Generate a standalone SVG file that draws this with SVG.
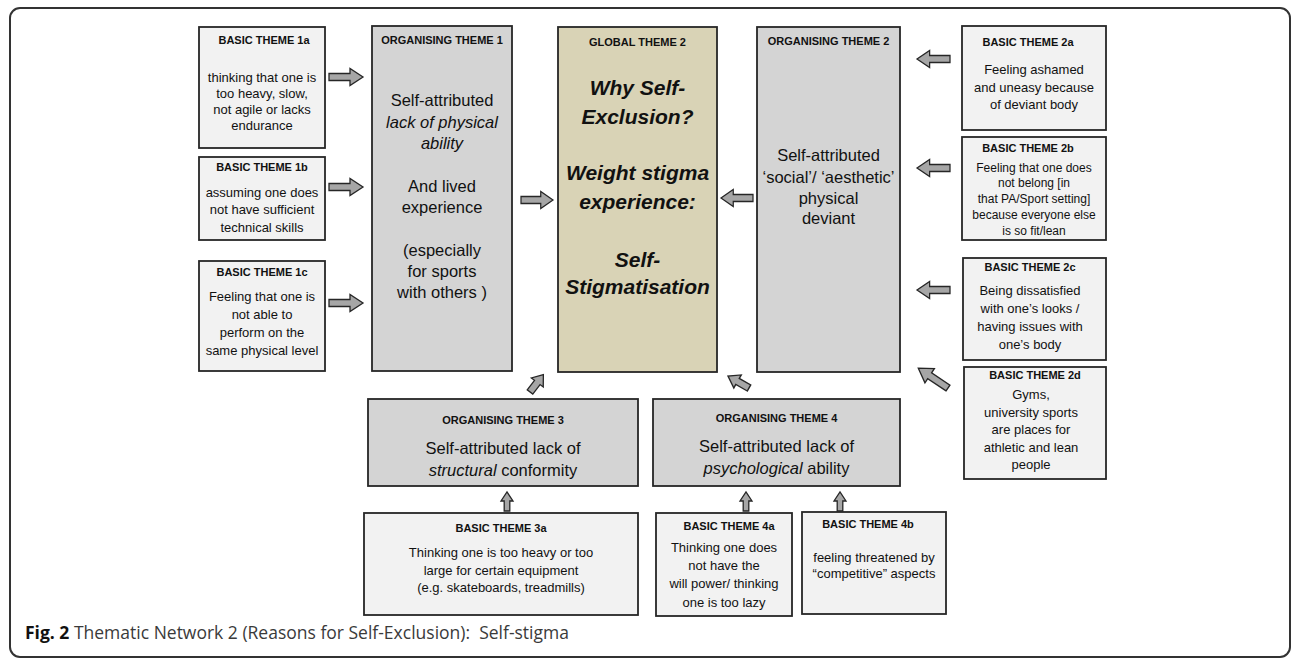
<svg xmlns="http://www.w3.org/2000/svg" width="1292" height="660" viewBox="0 0 1292 660">
<defs>
<style>
.basic{fill:#f2f2f2;stroke:#262626;stroke-width:1.8}
.org{fill:#d4d4d4;stroke:#262626;stroke-width:1.8}
.glob{fill:#d9d3b6;stroke:#262626;stroke-width:1.8}
.hd{font-family:"Liberation Sans",Arial,sans-serif;font-weight:bold;font-size:11px;fill:#111;text-anchor:middle}
.bt{font-family:"Liberation Sans",Arial,sans-serif;font-size:13px;fill:#111;text-anchor:middle}
.bt12{font-family:"Liberation Sans",Arial,sans-serif;font-size:12px;fill:#111;text-anchor:middle}
.ot{font-family:"Liberation Sans",Arial,sans-serif;font-size:16.5px;fill:#111;text-anchor:middle}
.gt{font-family:"Liberation Sans",Arial,sans-serif;font-size:21px;font-weight:bold;font-style:italic;fill:#111;text-anchor:middle}
.arr{fill:#a6a6a6;stroke:#262626;stroke-width:1.3;stroke-linejoin:miter}
.cap{font-family:"Open Sans","Liberation Sans",sans-serif;font-size:17.5px;fill:#3a3a3a}
</style>
<path id="aBig" d="M0,-3.5 H21 V-8.5 L34,0 L21,8.5 V3.5 H0 Z"/>
<path id="aMid" d="M0,-3.5 H12 V-7.5 L22,0 L12,7.5 V3.5 H0 Z"/>
<path id="aSmall" d="M0,-2.8 H10 V-6 L19,0 L10,6 V2.8 H0 Z"/>
</defs>

<rect x="10" y="8" width="1280" height="649" rx="10" fill="none" stroke="#333" stroke-width="2"/>

<g id="basic1a">
<rect class="basic" x="199" y="27" width="126" height="121"/>
<text class="hd" x="264" y="44">BASIC THEME 1a</text>
<text class="bt" x="262" y="82">thinking that one is</text>
<text class="bt" x="262" y="98">too heavy, slow,</text>
<text class="bt" x="262" y="114">not agile or lacks</text>
<text class="bt" x="262" y="130">endurance</text>
</g>
<g id="basic1b">
<rect class="basic" x="199" y="157" width="126" height="83"/>
<text class="hd" x="262" y="171">BASIC THEME 1b</text>
<text class="bt" x="262" y="196.5">assuming one does</text>
<text class="bt" x="262" y="213.5">not have sufficient</text>
<text class="bt" x="262" y="231.5">technical skills</text>
</g>
<g id="basic1c">
<rect class="basic" x="199" y="261" width="126" height="110"/>
<text class="hd" x="262" y="276">BASIC THEME 1c</text>
<text class="bt" x="262" y="300.5">Feeling that one is</text>
<text class="bt" x="262" y="318.5">not able to</text>
<text class="bt" x="262" y="336.5">perform on the</text>
<text class="bt" x="262" y="354.5">same physical level</text>
</g>
<g id="org1">
<rect class="org" x="372" y="26" width="140" height="345"/>
<text class="hd" x="442" y="44">ORGANISING THEME 1</text>
<text class="ot" x="442" y="106">Self-attributed</text>
<text class="ot" x="442" y="128" font-style="italic">lack of physical</text>
<text class="ot" x="442" y="149" font-style="italic">ability</text>
<text class="ot" x="442" y="192">And lived</text>
<text class="ot" x="442" y="213">experience</text>
<text class="ot" x="442" y="256">(especially</text>
<text class="ot" x="442" y="277">for sports</text>
<text class="ot" x="442" y="298">with others )</text>
</g>
<g id="global2">
<rect class="glob" x="558" y="27" width="159" height="345"/>
<text class="hd" x="637.5" y="46">GLOBAL THEME 2</text>
<text class="gt" x="637.5" y="95">Why Self-</text>
<text class="gt" x="637.5" y="124">Exclusion?</text>
<text class="gt" x="637.5" y="180">Weight stigma</text>
<text class="gt" x="637.5" y="209">experience:</text>
<text class="gt" x="637.5" y="267">Self-</text>
<text class="gt" x="637.5" y="294">Stigmatisation</text>
</g>
<g id="org2">
<rect class="org" x="757" y="27" width="143" height="345"/>
<text class="hd" x="828.5" y="45">ORGANISING THEME 2</text>
<text class="ot" x="828.5" y="161">Self-attributed</text>
<text class="ot" x="828.5" y="183">‘social’/ ‘aesthetic’</text>
<text class="ot" x="828.5" y="204">physical</text>
<text class="ot" x="828.5" y="224">deviant</text>
</g>
<g id="basic2a">
<rect class="basic" x="962" y="26" width="144" height="104"/>
<text class="hd" x="1028" y="46">BASIC THEME 2a</text>
<text class="bt" x="1034" y="73.5">Feeling ashamed</text>
<text class="bt" x="1034" y="91.5">and uneasy because</text>
<text class="bt" x="1034" y="108.5">of deviant body</text>
</g>
<g id="basic2b">
<rect class="basic" x="962" y="137" width="144" height="103"/>
<text class="hd" x="1028" y="152">BASIC THEME 2b</text>
<text class="bt12" x="1034" y="172">Feeling that one does</text>
<text class="bt12" x="1034" y="187">not belong [in</text>
<text class="bt12" x="1034" y="203">that PA/Sport setting]</text>
<text class="bt12" x="1034" y="219">because everyone else</text>
<text class="bt12" x="1034" y="235">is so fit/lean</text>
</g>
<g id="basic2c">
<rect class="basic" x="963" y="258" width="143" height="102"/>
<text class="hd" x="1030" y="271">BASIC THEME 2c</text>
<text class="bt" x="1030" y="294.5">Being dissatisfied</text>
<text class="bt" x="1030" y="312.5">with one’s looks /</text>
<text class="bt" x="1030" y="330.5">having issues with</text>
<text class="bt" x="1030" y="348.5">one’s body</text>
</g>
<g id="basic2d">
<rect class="basic" x="964" y="367" width="142" height="112"/>
<text class="hd" x="1035" y="379">BASIC THEME 2d</text>
<text class="bt" x="1031" y="398.5">Gyms,</text>
<text class="bt" x="1031" y="416.5">university sports</text>
<text class="bt" x="1031" y="433.5">are places for</text>
<text class="bt" x="1031" y="451.5">athletic and lean</text>
<text class="bt" x="1031" y="468.5">people</text>
</g>
<g id="org3">
<rect class="org" x="368" y="399" width="270" height="87"/>
<text class="hd" x="503" y="424">ORGANISING THEME 3</text>
<text class="ot" x="503" y="454">Self-attributed lack of</text>
<text class="ot" x="503" y="476"><tspan font-style="italic">structural</tspan> conformity</text>
</g>
<g id="basic3a">
<rect class="basic" x="364" y="513" width="274" height="102"/>
<text class="hd" x="501" y="532">BASIC THEME 3a</text>
<text class="bt" x="501" y="556.5">Thinking one is too heavy or too</text>
<text class="bt" x="501" y="574.5">large for certain equipment</text>
<text class="bt" x="501" y="591.5">(e.g. skateboards, treadmills)</text>
</g>
<g id="org4">
<rect class="org" x="653" y="399" width="247" height="87"/>
<text class="hd" x="776.5" y="422">ORGANISING THEME 4</text>
<text class="ot" x="776.5" y="452">Self-attributed lack of</text>
<text class="ot" x="776.5" y="474"><tspan font-style="italic">psychological</tspan> ability</text>
</g>
<g id="basic4a">
<rect class="basic" x="656" y="513" width="136" height="103"/>
<text class="hd" x="729" y="530">BASIC THEME 4a</text>
<text class="bt" x="724" y="551.5">Thinking one does</text>
<text class="bt" x="724" y="569.5">not have the</text>
<text class="bt" x="724" y="587.5">will power/ thinking</text>
<text class="bt" x="724" y="606.5">one is too lazy</text>
</g>
<g id="basic4b">
<rect class="basic" x="802" y="512" width="144" height="102"/>
<text class="hd" x="868" y="528">BASIC THEME 4b</text>
<text class="bt" x="874" y="561.5">feeling threatened by</text>
<text class="bt" x="874" y="577.5">“competitive” aspects</text>
</g>

<g id="connectors" class="arr">
<use href="#aBig" transform="translate(329,77)"/>
<use href="#aBig" transform="translate(329,187)"/>
<use href="#aBig" transform="translate(329,303)"/>
<use href="#aBig" transform="translate(521,200) scale(0.94,1)"/>
<use href="#aBig" transform="translate(753,198) rotate(180) scale(0.94,1)"/>
<use href="#aBig" transform="translate(950,59) rotate(180) scale(0.97,1)"/>
<use href="#aBig" transform="translate(950,168) rotate(180) scale(0.97,1)"/>
<use href="#aBig" transform="translate(950,290) rotate(180) scale(0.97,1)"/>
<use href="#aBig" transform="translate(948,388) rotate(-146.3) scale(1.05,1)"/>
<use href="#aMid" transform="translate(530,392) rotate(-52.6)"/>
<use href="#aMid" transform="translate(749,388) rotate(-150.3) scale(1.1,1)"/>
<use href="#aSmall" transform="translate(507,511) rotate(-90)"/>
<use href="#aSmall" transform="translate(746,511) rotate(-90)"/>
<use href="#aSmall" transform="translate(840,511) rotate(-90)"/>
</g>

<text class="cap" x="25" y="639" xml:space="preserve"><tspan font-weight="bold" fill="#111">Fig. 2</tspan> Thematic Network 2 (Reasons for Self-Exclusion):  Self-stigma</text>
</svg>
